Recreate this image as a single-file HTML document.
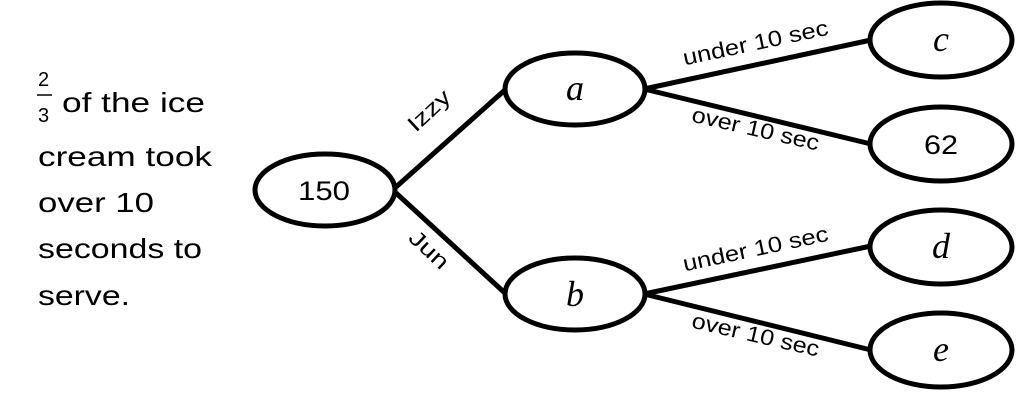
<!DOCTYPE html>
<html><head><meta charset="utf-8"><style>body{margin:0;background:#fff}svg{display:block}</style></head>
<body>
<svg width="1028" height="404" viewBox="0 0 1028 404" xmlns="http://www.w3.org/2000/svg">
<g font-family="Liberation Sans, sans-serif" font-size="28" fill="#000">
<text x="38" y="86" font-size="20">2</text>
<line x1="37" y1="95" x2="52" y2="95" stroke="#000" stroke-width="1.5"/>
<text x="38" y="122" font-size="20">3</text>
<text x="62" y="112" textLength="143" lengthAdjust="spacingAndGlyphs">of the ice</text>
<text x="38" y="166" textLength="174" lengthAdjust="spacingAndGlyphs">cream took</text>
<text x="38" y="212" textLength="116" lengthAdjust="spacingAndGlyphs">over 10</text>
<text x="38" y="258" textLength="164" lengthAdjust="spacingAndGlyphs">seconds to</text>
<text x="38" y="305" textLength="92" lengthAdjust="spacingAndGlyphs">serve.</text>
</g>
<g stroke="#000" stroke-width="5" fill="none">
<line x1="396" y1="187" x2="506" y2="89"/>
<line x1="396" y1="193" x2="506" y2="294"/>
<line x1="644" y1="89" x2="871" y2="40"/>
<line x1="644" y1="89" x2="871" y2="144"/>
<line x1="644" y1="294" x2="871" y2="246"/>
<line x1="644" y1="294" x2="871" y2="350"/>
<ellipse cx="325" cy="190" rx="70" ry="36" fill="#fff"/>
<ellipse cx="575" cy="89" rx="70" ry="36" fill="#fff"/>
<ellipse cx="575" cy="294" rx="70" ry="36" fill="#fff"/>
<ellipse cx="941" cy="40" rx="71" ry="37" fill="#fff"/>
<ellipse cx="941" cy="144" rx="71" ry="37" fill="#fff"/>
<ellipse cx="941" cy="247" rx="71" ry="37" fill="#fff"/>
<ellipse cx="941" cy="350" rx="71" ry="37" fill="#fff"/>
</g>
<g font-family="Liberation Sans, sans-serif" font-size="27" text-anchor="middle">
<text x="324" y="200" textLength="52" lengthAdjust="spacingAndGlyphs">150</text>
<text x="941" y="154" textLength="34" lengthAdjust="spacingAndGlyphs">62</text>
</g>
<g font-family="Liberation Serif, serif" font-style="italic" font-size="36" text-anchor="middle">
<text x="575" y="100">a</text>
<text x="575" y="306">b</text>
<text x="941" y="51">c</text>
<text x="941" y="258">d</text>
<text x="941" y="361">e</text>
</g>
<g font-family="Liberation Sans, sans-serif" font-size="22" text-anchor="middle">
<text transform="translate(434,116) rotate(-43)" textLength="50" lengthAdjust="spacingAndGlyphs">Izzy</text>
<text transform="translate(424,255) rotate(43)" textLength="46" lengthAdjust="spacingAndGlyphs">Jun</text>
<text transform="translate(757,50) rotate(-12)" textLength="148" lengthAdjust="spacingAndGlyphs">under 10 sec</text>
<text transform="translate(754,136) rotate(13)" textLength="130" lengthAdjust="spacingAndGlyphs">over 10 sec</text>
<text transform="translate(757,256) rotate(-12)" textLength="148" lengthAdjust="spacingAndGlyphs">under 10 sec</text>
<text transform="translate(754,342) rotate(13)" textLength="130" lengthAdjust="spacingAndGlyphs">over 10 sec</text>
</g>
</svg>
</body></html>
